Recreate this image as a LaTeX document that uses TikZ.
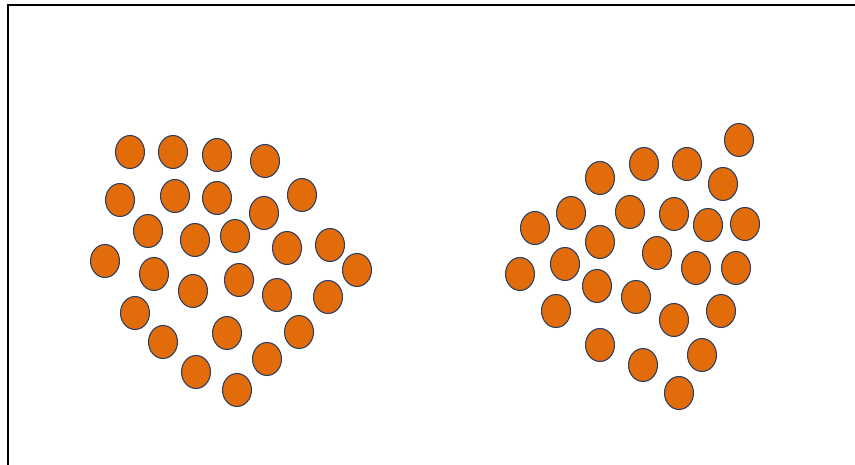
\documentclass[tikz,border=0pt]{standalone}
\usepackage{tikz}
\usetikzlibrary{shapes.geometric}
\definecolor{dotfill}{RGB}{227,108,10}
\definecolor{dotline}{RGB}{40,62,100}

\begin{document}
\begin{tikzpicture}[
  x=0.02cm, y=-0.02cm,
  dot/.style={ellipse, draw=dotline, fill=dotfill, line width=0.6pt,
              minimum width=0.58cm, minimum height=0.66cm, inner sep=0pt},
]
\useasboundingbox (0,0) rectangle (855,465);
\coordinate (bl) at (8,466);
\coordinate (tl) at (8,5);
\coordinate (tr) at (856,5);
\draw[line width=1.1pt] (bl) -- (tl) -- (tr);

\foreach \px/\py [count=\i] in {130/152, 173/152, 217/155, 265/161, 120/200,
    175/196, 217/198, 264/213, 302/195, 148/231, 195/240, 235/236, 287/248,
    330/245, 105/261, 154/274, 193/291, 239/280, 277/295, 328/297, 357/270,
    135/313, 163/342, 227/333, 299/332, 196/372, 267/359, 237/390}
  \node[dot] (l\i) at (\px,\py) {};

\foreach \px/\py [count=\i] in {739/140, 600/178, 644/164, 687/164, 723/184,
    535/228, 571/213, 630/212, 674/214, 708/225, 745/224, 600/242, 657/253,
    565/264, 520/274, 597/286, 696/268, 736/268, 636/297, 556/311, 674/320,
    721/311, 600/345, 643/365, 702/355, 679/393}
  \node[dot] (r\i) at (\px,\py) {};
\end{tikzpicture}
\end{document}
